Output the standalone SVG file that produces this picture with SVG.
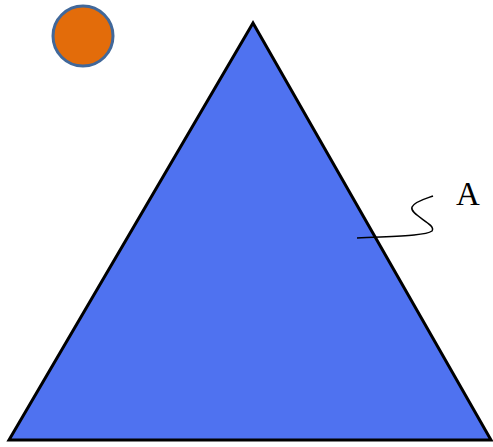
<svg xmlns="http://www.w3.org/2000/svg" width="493" height="447" viewBox="0 0 493 447">
<style>
.lbl{font-family:"Liberation Serif","Times New Roman",serif;font-size:33px;fill:#000}
</style>
<rect width="493" height="447" fill="#fff"/>
<g id="sun"><circle cx="83" cy="36" r="30" fill="#e36c0a" stroke="#41689a" stroke-width="3"/></g>
<g id="triangle"><polygon points="253,23 9,440 491,440" fill="#4f72f0" stroke="#000" stroke-width="3" stroke-linejoin="miter"/></g>
<g id="connectors"><path d="M357,238 C395,236 425,236 432,231 C437,224 409,215 412,207 C415,201 428,198 433,196" fill="none" stroke="#000" stroke-width="1.5"/></g>
<g id="label"><text class="lbl" x="456" y="205">A</text></g>
</svg>
